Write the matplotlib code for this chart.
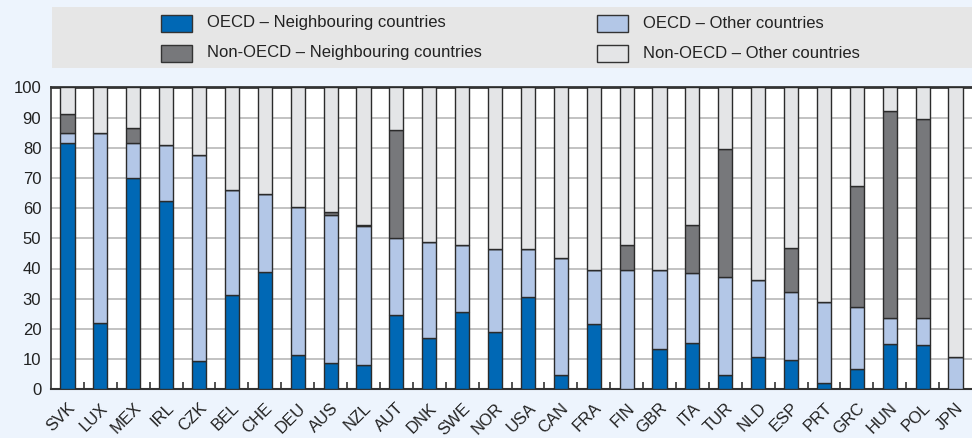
import matplotlib
matplotlib.use("Agg")
import matplotlib.pyplot as plt
from matplotlib.patches import Rectangle
import numpy as np

plt.rcParams['font.family'] = ['Liberation Sans', 'DejaVu Sans']

countries = ["SVK", "LUX", "MEX", "IRL", "CZK", "BEL", "CHE", "DEU", "AUS", "NZL",
             "AUT", "DNK", "SWE", "NOR", "USA", "CAN", "FRA", "FIN", "GBR", "ITA",
             "TUR", "NLD", "ESP", "PRT", "GRC", "HUN", "POL", "JPN"]
oecd_neigh = [81.7, 21.9, 69.9, 62.3, 9.3, 31.2, 38.7, 11.5, 8.7, 8.1,
              24.6, 17.1, 25.6, 19.0, 30.5, 4.9, 21.5, 0.0, 13.2, 15.3,
              4.7, 10.6, 9.8, 2.1, 6.8, 14.9, 14.6, 0.0]
oecd_other = [3.1, 63.0, 11.6, 18.5, 68.3, 34.9, 26.1, 48.8, 48.9, 46.0,
              25.5, 31.7, 22.3, 27.5, 16.0, 38.5, 18.1, 39.4, 26.2, 23.2,
              32.5, 25.6, 22.5, 26.8, 20.5, 8.7, 9.0, 10.8]
nonoecd_neigh = [6.5, 0.0, 5.1, 0.0, 0.0, 0.0, 0.0, 0.0, 1.2, 0.4,
                 35.9, 0.0, 0.0, 0.0, 0.0, 0.0, 0.0, 8.5, 0.0, 15.8,
                 42.4, 0.0, 14.6, 0.0, 40.1, 68.7, 65.8, 0.0]
labels = ["OECD \u2013 Neighbouring countries", "OECD \u2013 Other countries",
          "Non-OECD \u2013 Neighbouring countries", "Non-OECD \u2013 Other countries"]

colors = ["#0068B5", "#B3C7E7", "#77787B", "#E4E5E7"]
bg = "#EDF4FD"

a = np.array(oecd_neigh)
b = np.array(oecd_other)
c = np.array(nonoecd_neigh)
d = 100 - a - b - c

W, H = 972, 438
fig = plt.figure(figsize=(W / 100, H / 100), dpi=100, facecolor=bg)
ax = fig.add_axes([51 / W, (H - 389.3) / H, 1 - 51 / W, (389.3 - 87.3) / H])
ax.set_facecolor("white")

x = np.arange(len(countries))
bw = 0.43
bottom = np.zeros(len(x))
for vals, col in zip([a, b, c, d], colors):
    ax.bar(x, vals, bw, bottom=bottom, color=col, edgecolor="#2B2B2B", linewidth=1.0, zorder=3)
    bottom = bottom + vals

ax.set_xlim(-0.5, len(x) - 0.5)
ax.set_ylim(0, 100)
ax.set_yticks(range(0, 101, 10))
ax.yaxis.grid(True, color="#BDBDBD", linewidth=1.3, zorder=0)
ax.tick_params(axis="y", length=0, labelsize=12, pad=7, labelcolor="#222222")
ax.set_xticks(x)
ax.set_xticklabels(countries, rotation=45, ha="right", rotation_mode="anchor",
                   fontsize=12, color="#222222")
ax.tick_params(axis="x", length=0, pad=8)
ax.set_xticks(x[:-1] + 0.5, minor=True)
ax.tick_params(axis="x", which="minor", direction="in", length=5, width=1.2, color="#333333")

for s in ["top", "bottom", "left"]:
    ax.spines[s].set_color("#333333")
ax.spines["top"].set_linewidth(2)
ax.spines["bottom"].set_linewidth(1.5)
ax.spines["left"].set_linewidth(1.2)
ax.spines["right"].set_visible(False)

# legend box drawn by hand to match the layout
fig.add_artist(Rectangle((52 / W, (H - 68) / H), 1 - 52 / W, 61 / H,
                         transform=fig.transFigure, facecolor="#E6E6E6", edgecolor="none"))
leg_pos = [(161, 23), (597, 23), (161, 53), (597, 53)]
for i, lab in enumerate(labels):
    px, py = leg_pos[i]
    fig.add_artist(Rectangle((px / W, (H - py - 8.5) / H), 31 / W, 17 / H,
                             transform=fig.transFigure, facecolor=colors[i],
                             edgecolor="#333333", linewidth=1.0))
    fig.text((px + 46) / W, (H - py) / H, lab, fontsize=12, va="center", ha="left", color="#222222")

fig.savefig("out.png", dpi=100, facecolor=bg)
